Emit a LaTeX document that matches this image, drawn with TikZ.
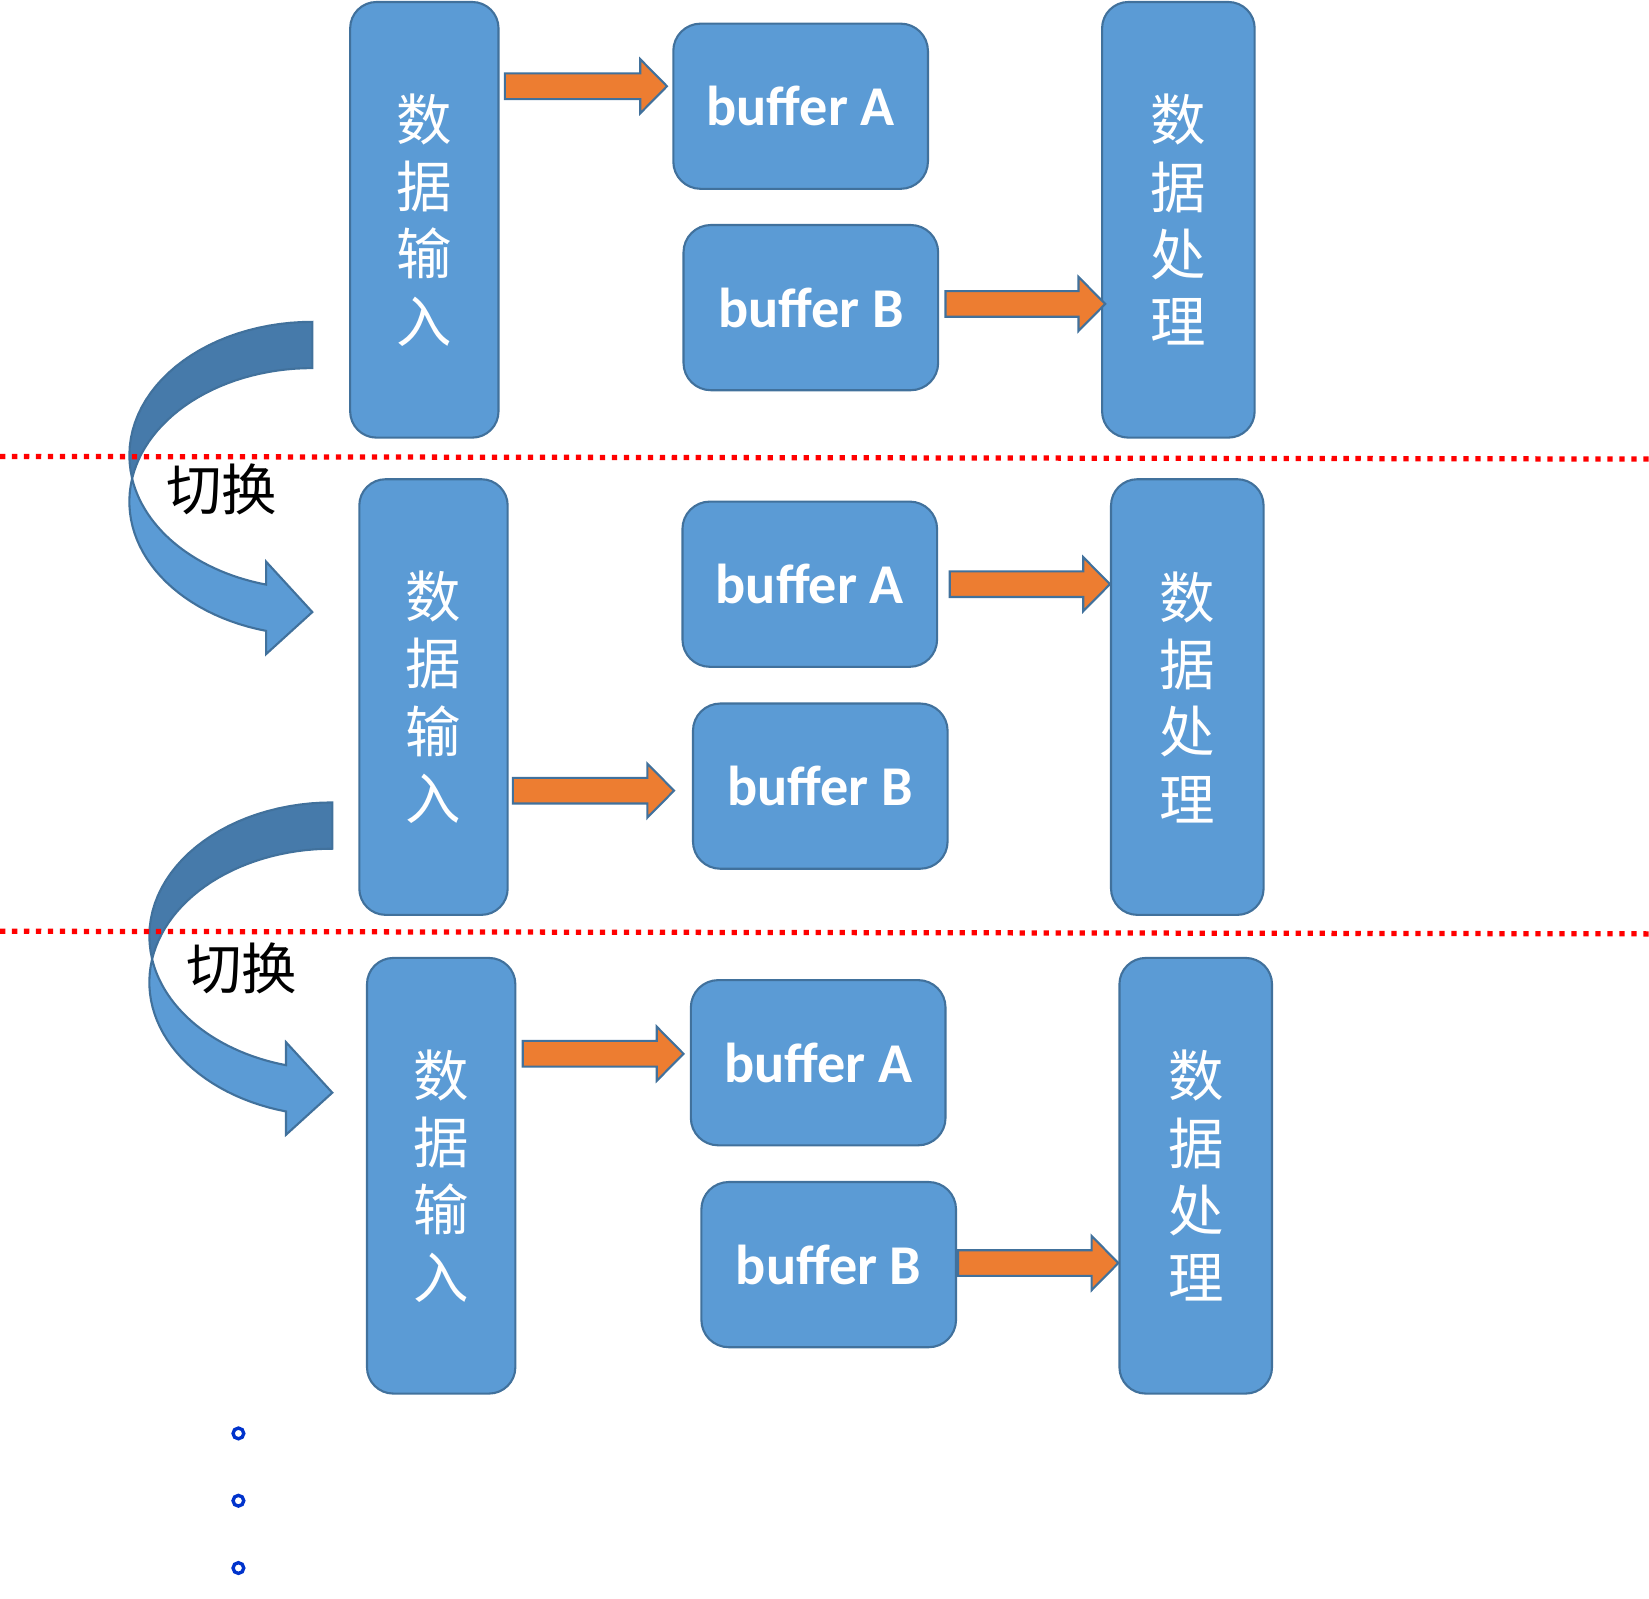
\documentclass[tikz,border=0pt]{standalone}
\usepackage{fontspec}
\usepackage{tikz}
\usetikzlibrary{calc}
\newfontfamily\cjk{Noto Sans CJK SC}
\newfontfamily\carlito{Carlito}

\definecolor{boxfill}{HTML}{5B9BD5}
\definecolor{boxline}{HTML}{41719C}
\definecolor{bandback}{HTML}{467AAA}
\definecolor{arroworange}{HTML}{ED7D31}
\definecolor{dotblue}{HTML}{0033CC}

\tikzset{
	every block/.style={draw=boxline, fill=boxfill, line width=0.02cm, inner sep=0pt},
	stage/.style={every block, rounded corners=0.25cm, minimum height=4.14cm, align=center,
		text=white, font=\cjk\fontsize{15}{18.2}\selectfont},
	buffer/.style={every block, rounded corners=0.26cm, minimum width=2.42cm, minimum height=1.57cm,
		text=white, font=\carlito\bfseries\fontsize{15.2}{18}\selectfont},
	blockarrow/.style={draw=boxline, fill=arroworange, line width=0.02cm,
		to path={let \p1=(\tikztostart), \p2=(\tikztotarget) in
			(\x1,\y1+0.122cm) -- (\x2-0.254cm,\y1+0.122cm) -- (\x2-0.254cm,\y1+0.257cm)
			-- (\x2,\y1) -- (\x2-0.254cm,\y1-0.257cm) -- (\x2-0.254cm,\y1-0.122cm)
			-- (\x1,\y1-0.122cm) -- cycle}},
	switchband/.style={draw=boxline, line width=0.02cm},
	switch label/.style={font=\cjk\fontsize{15}{18}\selectfont},
	sepline/.style={red, line width=0.05cm, dash pattern=on 0.05cm off 0.064cm},
	dotring/.style={circle, draw=dotblue, line width=0.032cm, minimum size=0.102cm, inner sep=0pt}
}

\begin{document}
\begin{tikzpicture}[x=0.01cm, y=-0.01cm]
	\useasboundingbox (0,0) rectangle (1568,1520);
	
	\foreach \dx/\dy in {0/0, 19/457} {
		\begin{scope}[shift={(\dx,\dy)}]
			\filldraw[switchband, fill=bandback]
			plot[variable=\t, domain=270:170.03, samples=30] ({297+174*cos(\t)}, {433+127*sin(\t)})
			-- plot[variable=\t, domain=189.97:270, samples=30] ({297+174*cos(\t)}, {477+127*sin(\t)}) -- cycle;
			\filldraw[switchband, fill=boxfill]
			plot[variable=\t, domain=189.97:104.65, samples=30] ({297+174*cos(\t)}, {477+127*sin(\t)})
			-- (253,622) -- (297,582) -- (253,534)
			-- plot[variable=\t, domain=104.65:170.03, samples=30] ({297+174*cos(\t)}, {433+127*sin(\t)}) -- cycle;
		\end{scope}
	}
	
	\draw[sepline] (0,434) -- (1568,436.5);
	\draw[sepline] (0,885.5) -- (1568,888);
	
	\foreach \p/\xi/\yi in {1/403.5/209, 2/412.2/662.8, 3/419.5/1118}
	\node[stage, minimum width=1.41cm] (input-\p) at (\xi,\yi) {数\\据\\输\\入};
	
	\foreach \p/\xi/\yi in {1/1120.5/209, 2/1129/662.8, 3/1137/1118}
	\node[stage, minimum width=1.45cm] (proc-\p) at (\xi,\yi) {数\\据\\处\\理};
	
	\foreach \p/\xi/\yi in {1/761.3/101, 2/770/555.5, 3/778/1010.5}
	\node[buffer] (bufA-\p) at (\xi,\yi) {buffer A};
	
	\foreach \p/\xi/\yi in {1/771/292.5, 2/780/747.5, 3/788/1202.5}
	\node[buffer] (bufB-\p) at (\xi,\yi) {buffer B};
	
	\draw[blockarrow] ($(input-1.east)+(5,-127)$) to ($(bufA-1.west)+(-5,0)$);
	\draw[blockarrow] ($(bufB-1.east)+(6,-3.5)$) to ($(proc-1.west)+(4,0)$);
	\draw[blockarrow] ($(bufA-2.east)+(11,0)$) to (proc-2.west);
	\draw[blockarrow] ($(input-2.east)+(4,89)$) to ($(bufB-2.west)+(-17,0)$);
	\draw[blockarrow] ($(input-3.east)+(6,-116)$) to ($(bufA-3.west)+(-6,0)$);
	\draw[blockarrow] ($(bufB-3.east)+(1,-1.5)$) to (proc-3.west);
	
	\node[switch label] (switch-1) at (211,465) {切换};
	\node[switch label] (switch-2) at (230,921) {切换};
	
	\foreach \y [count=\i] in {1363,1427,1491}
	\node[dotring] (dot-\i) at (226.7,\y) {};
\end{tikzpicture}
\end{document}
